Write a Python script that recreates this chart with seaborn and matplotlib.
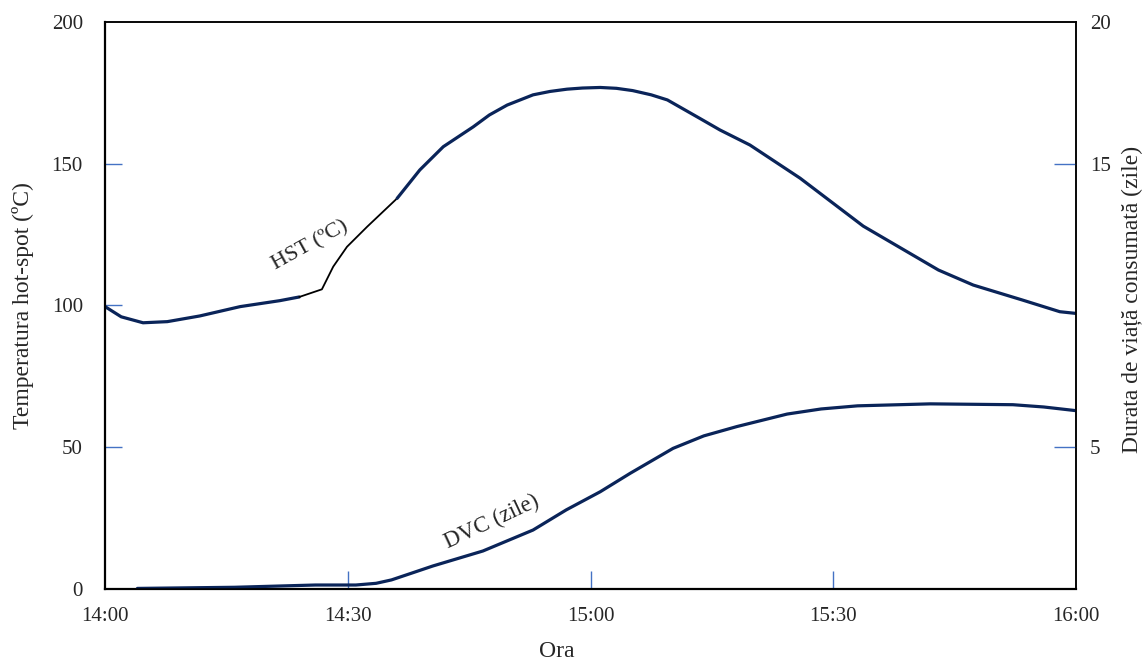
import matplotlib
matplotlib.use("Agg")
import matplotlib.pyplot as plt
from matplotlib.ticker import FixedLocator
import seaborn as sns

# DATA (minutes after 14:00)
hst_time = [0, 2, 4.7, 7.7, 11.7, 16.7, 21.6, 24, 26.8, 28.2, 29.9, 32.4, 36.1,
            38.9, 41.8, 45.5, 47.5, 49.7, 52.9, 55, 57.1, 59, 61.2, 63.2, 65.2, 67.5, 69.5,
            73.5, 76, 79.7, 85.9, 93.7, 99.1, 103, 107.3, 113.4, 118, 120]
hst_vals = [99.6, 96, 93.9, 94.3, 96.3, 99.6, 101.7, 103, 105.7, 113.7, 120.7, 127.8, 137.8,
            147.8, 156, 163, 167.2, 170.7, 174.3, 175.5, 176.3, 176.7, 176.9, 176.6, 175.8, 174.3, 172.5,
            166, 161.9, 156.6, 144.9, 128, 119, 112.5, 107.2, 101.9, 97.8, 97.2]
hst_black = (7, 12)  # index range redrawn by hand in the original

dvc_time = [4, 16, 26, 31, 33.5, 35.4, 37.8, 40.5, 46.7, 52.9, 57, 61.2, 64.9, 70.2, 74, 78.1,
            84.3, 88.5, 93, 102, 112.2, 116, 120]
dvc_vals = [0.02, 0.06, 0.14, 0.14, 0.2, 0.32, 0.55, 0.81, 1.34, 2.08, 2.79, 3.43, 4.08, 4.96, 5.4, 5.73,
            6.17, 6.35, 6.46, 6.53, 6.5, 6.42, 6.29]

x_ticks = [0, 30, 60, 90, 120]
x_labels = ["14:00", "14:30", "15:00", "15:30", "16:00"]
y_left_ticks = [0, 50, 100, 150, 200]
y_right_ticks = [5, 15, 20]

NAVY = "#0a2459"
TICK_BLUE = "#4472c4"

sns.set_style("white")
plt.rcParams["font.family"] = ["Liberation Serif", "DejaVu Serif"]
plt.rcParams["font.size"] = 15

fig, ax = plt.subplots(figsize=(11.43, 6.62), dpi=100)
fig.subplots_adjust(left=0.0919, right=0.9414, bottom=0.1103, top=0.9668)
ax2 = ax.twinx()

# HST curve, with the hand-drawn black part in the middle
a, b = hst_black
sns.lineplot(x=hst_time[:a + 1], y=hst_vals[:a + 1], ax=ax, color=NAVY, lw=2.3, sort=False, estimator=None)
sns.lineplot(x=hst_time[a:b + 1], y=hst_vals[a:b + 1], ax=ax, color="black", lw=1.3, sort=False, estimator=None)
sns.lineplot(x=hst_time[b:], y=hst_vals[b:], ax=ax, color=NAVY, lw=2.3, sort=False, estimator=None)

# DVC curve on right axis
sns.lineplot(x=dvc_time, y=dvc_vals, ax=ax2, color=NAVY, lw=2.3, sort=False, estimator=None)

ax.set_xlim(0, 120)
ax.set_ylim(0, 200)
ax2.set_ylim(0, 20)

# major ticks: labels only, minor ticks: the short blue marks
ax.set_xticks(x_ticks, x_labels)
ax.set_yticks(y_left_ticks)
ax2.set_yticks(y_right_ticks)
ax.xaxis.set_minor_locator(FixedLocator(x_ticks[1:-1]))
ax.yaxis.set_minor_locator(FixedLocator(y_left_ticks[1:-1]))
ax2.yaxis.set_minor_locator(FixedLocator(y_right_ticks[:-1]))
ax.xaxis.remove_overlapping_locs = False
ax.yaxis.remove_overlapping_locs = False
ax2.yaxis.remove_overlapping_locs = False

ax.tick_params(axis="x", which="major", length=0, pad=13, labelsize=15)
ax.tick_params(axis="y", which="major", length=0, pad=16, labelsize=15)
ax2.tick_params(axis="y", which="major", length=0, pad=10, labelsize=15)
ax.tick_params(axis="x", which="minor", direction="in", length=13, width=1.0, color=TICK_BLUE, bottom=True)
ax.tick_params(axis="y", which="minor", direction="in", length=12, width=1.0, color=TICK_BLUE, left=True)
ax2.tick_params(axis="y", which="minor", direction="in", length=16, width=1.0, color=TICK_BLUE, right=True)

ax.set_xlabel("Ora", fontsize=17)
ax.set_ylabel("Temperatura hot-spot (ºC)", fontsize=17)
ax2.set_ylabel("Durata de viață consumată (zile)", fontsize=17)
ax.xaxis.set_label_coords(0.4655, -0.092)
ax.yaxis.set_label_coords(-0.073, 0.5)
ax2.yaxis.set_label_coords(1.047, 0.51)

for sp in ax.spines.values():
    sp.set_color("black")
    sp.set_linewidth(1.1)
ax.spines["left"].set_linewidth(1.6)
ax.spines["bottom"].set_linewidth(1.6)
for sp in ax2.spines.values():
    sp.set_color("black")
    sp.set_linewidth(1.1)

ax.grid(False)
ax2.grid(False)

ax.text(25.3, 121, "HST (ºC)", rotation=29, ha="center", va="center", fontsize=16)
ax2.text(47.8, 2.36, "DVC (zile)", rotation=25, ha="center", va="center", fontsize=16.5)

fig.savefig("out.png", dpi=100)
